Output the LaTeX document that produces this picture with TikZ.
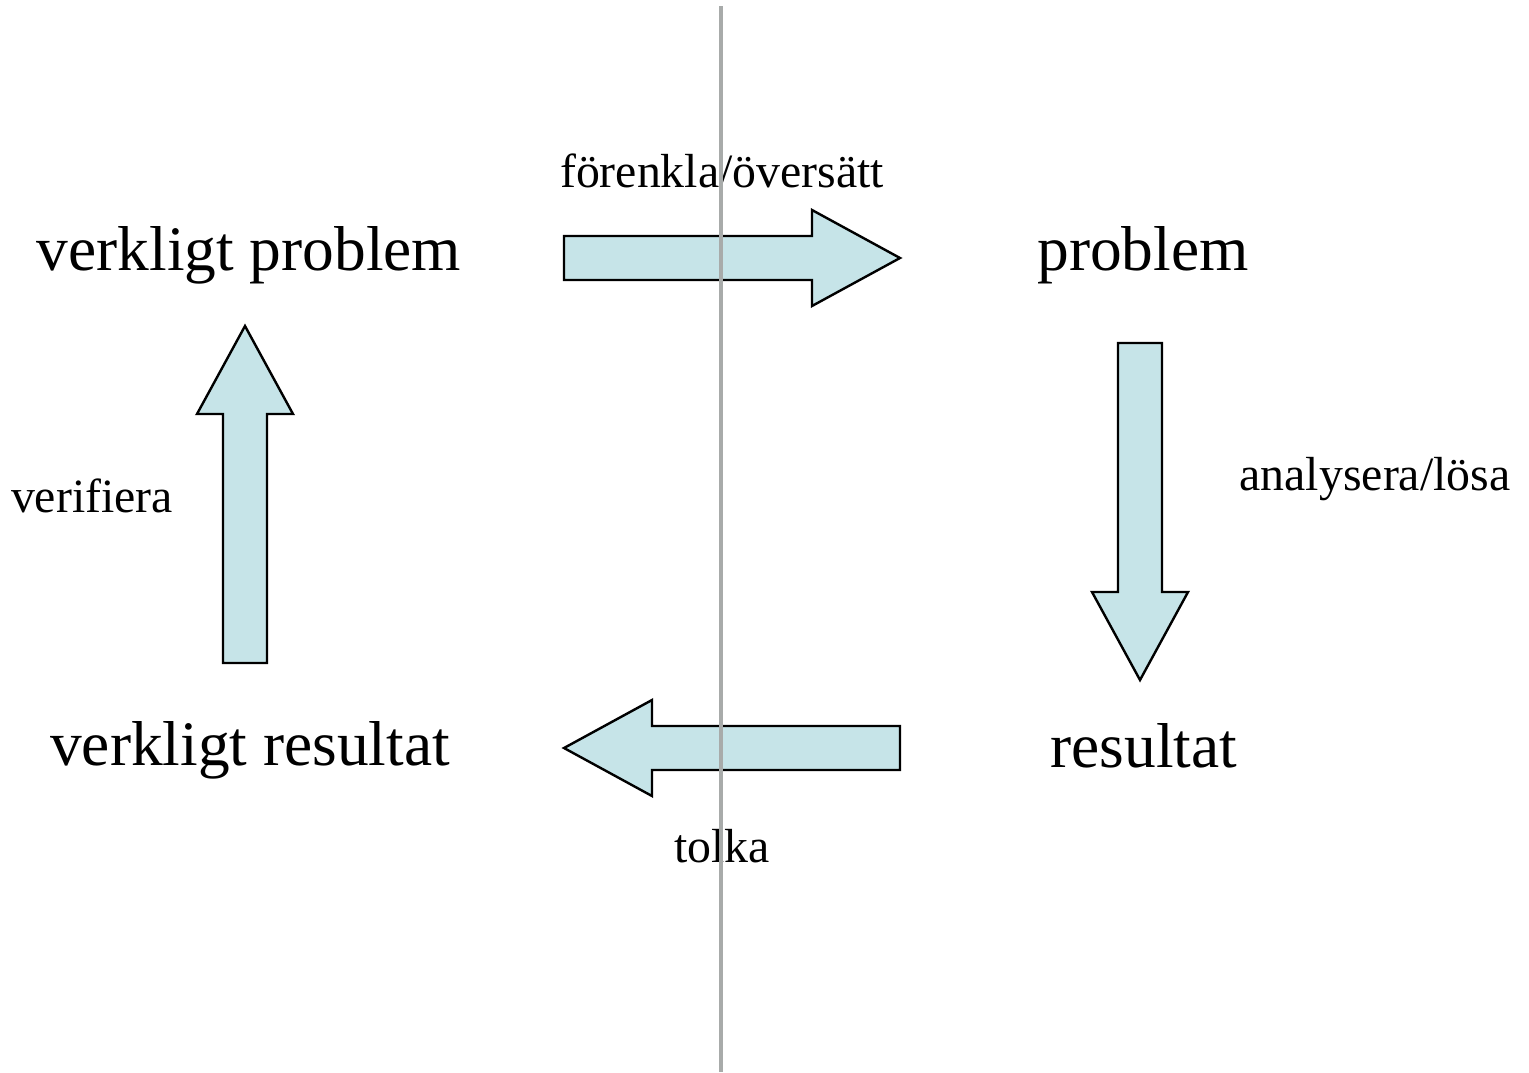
\documentclass[tikz,border=0pt]{standalone}
\usepackage{fontspec}
\setmainfont{Liberation Serif}
\definecolor{arrowfill}{HTML}{C6E4E8}
\definecolor{divider}{HTML}{A8ABAA}
\begin{document}
\begin{tikzpicture}[x=0.5pt,y=-0.5pt,
  bigtext/.style={anchor=base,inner sep=0pt,font=\fontsize{31.7}{36}\selectfont},
  smalltext/.style={anchor=base,inner sep=0pt,font=\fontsize{23.9}{28}\selectfont},
  blockarrow/.style={fill=arrowfill,draw=black,line width=1.2pt,line join=miter}]
\useasboundingbox (0,0) rectangle (1529,1072);
% texts
\node[bigtext] (vp) at (249,270) {verkligt problem};
\node[bigtext] (p) at (1143,270) {problem};
\node[bigtext] (vr) at (250,765) {verkligt resultat};
\node[bigtext] (r) at (1144,767) {resultat};
\node[smalltext] (l1) at (722,187) {förenkla/översätt};
\node[smalltext] (l2) at (1375,490) {analysera/lösa};
\node[smalltext] (l3) at (92,512) {verifiera};
\node[smalltext] (l4) at (722,862) {tolka};
% block arrows
\draw[blockarrow] (564,236) -- (812,236) -- (812,210) -- (900,258) -- (812,306) -- (812,280) -- (564,280) -- cycle;
\draw[blockarrow] (1118,343) -- (1162,343) -- (1162,592) -- (1188,592) -- (1140,680) -- (1092,592) -- (1118,592) -- cycle;
\draw[blockarrow] (900,726) -- (652,726) -- (652,700) -- (564,748) -- (652,796) -- (652,770) -- (900,770) -- cycle;
\draw[blockarrow] (223,663) -- (223,414) -- (197,414) -- (245,326) -- (293,414) -- (267,414) -- (267,663) -- cycle;
% divider
\coordinate (dtop) at (720.5,6);
\coordinate (dbot) at (720.5,1072);
\draw[divider,line width=2pt] (dtop) -- (dbot);
\end{tikzpicture}
\end{document}
